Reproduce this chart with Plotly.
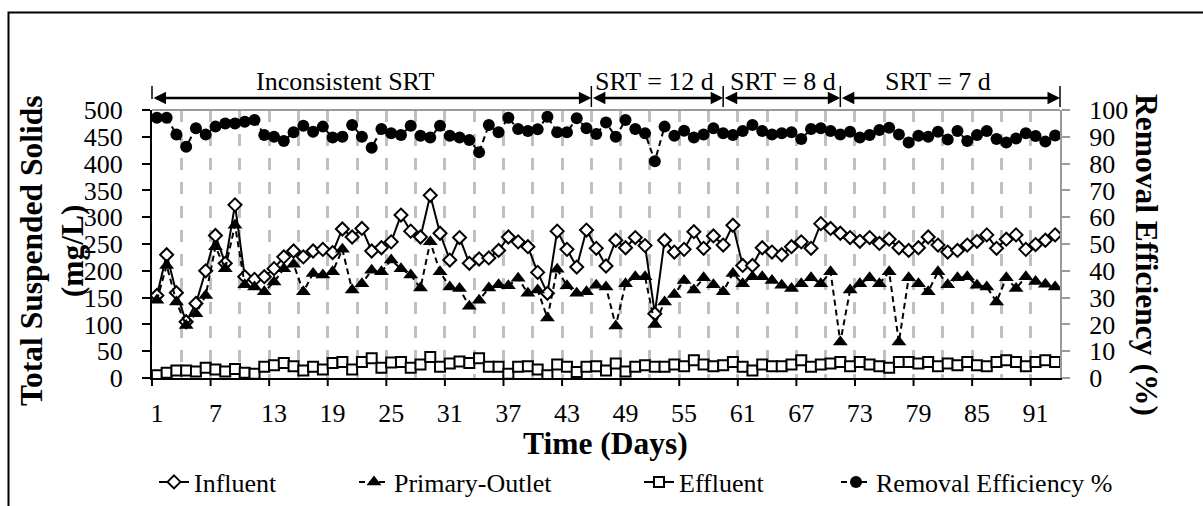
import plotly.graph_objects as go

# ---------------- data ----------------
days = list(range(1, 94))
influent = [154, 230, 159, 105, 139, 200, 266, 214, 323, 189,
            184, 189, 204, 226, 237, 226, 237, 240, 234, 278,
            263, 279, 237, 243, 254, 304, 274, 263, 341, 270,
            220, 262, 214, 222, 224, 238, 263, 254, 245, 197,
            158, 274, 240, 207, 276, 242, 209, 257, 243, 262,
            247, 120, 257, 235, 240, 273, 242, 265, 248, 285,
            210, 210, 243, 235, 230, 245, 254, 242, 288, 279,
            270, 262, 255, 262, 251, 259, 243, 238, 243, 263,
            248, 235, 238, 248, 255, 267, 242, 259, 267, 240,
            249, 257, 267]
primary = [145, 210, 142, 98, 120, 154, 245, 204, 285, 174,
           170, 161, 179, 204, 212, 161, 195, 192, 198, 240,
           164, 176, 201, 198, 220, 204, 192, 168, 254, 198,
           170, 167, 134, 145, 168, 174, 172, 186, 158, 164,
           112, 203, 172, 158, 161, 173, 170, 97, 176, 189,
           189, 100, 142, 156, 182, 164, 187, 174, 161, 195,
           176, 189, 189, 182, 173, 167, 176, 187, 176, 198,
           67, 164, 176, 187, 176, 198, 67, 187, 176, 161,
           198, 174, 187, 189, 173, 170, 142, 187, 167, 189,
           180, 175, 170]
effluent = [5, 10, 14, 14, 12, 19, 16, 12, 17, 10,
            8, 21, 24, 28, 22, 14, 21, 16, 28, 30,
            16, 30, 37, 19, 29, 30, 19, 25, 39, 21,
            27, 31, 28, 37, 21, 21, 8, 21, 22, 16,
            5, 25, 21, 11, 21, 22, 14, 27, 12, 21,
            24, 21, 21, 25, 22, 33, 25, 22, 24, 30,
            21, 14, 25, 22, 22, 25, 33, 21, 25, 27,
            30, 22, 30, 25, 22, 19, 30, 30, 27, 30,
            22, 27, 24, 30, 24, 22, 30, 33, 30, 22,
            30, 33, 30]
removal = [97.1, 97.1, 90.9, 86.3, 93.2, 90.9, 93.8, 95.0, 95.0, 95.6,
           96.3, 90.7, 90.0, 88.4, 91.7, 94.1, 91.9, 93.8, 89.7, 90.0,
           94.4, 90.0, 85.9, 92.9, 91.3, 90.7, 94.1, 90.4, 89.7, 94.1,
           90.4, 89.7, 88.8, 84.2, 94.4, 91.7, 97.1, 92.9, 92.2, 92.8,
           97.5, 91.7, 91.7, 96.9, 93.2, 91.0, 95.3, 90.0, 96.3, 92.9,
           91.3, 80.9, 93.8, 90.4, 92.3, 89.7, 90.9, 93.2, 91.3, 90.7,
           92.2, 94.4, 92.2, 90.9, 91.3, 91.7, 89.2, 92.9, 93.2, 92.2,
           90.9, 91.9, 89.7, 90.7, 92.5, 93.4, 90.9, 87.9, 90.4, 90.0,
           91.9, 89.0, 92.2, 88.4, 90.7, 92.2, 89.2, 87.9, 89.4, 91.3,
           90.3, 88.2, 90.5]

x_tick_days = list(range(1, 92, 6))
left_ticks = list(range(0, 501, 50))
right_ticks = list(range(0, 101, 10))

period_names = ["Inconsistent SRT", "SRT = 12 d", "SRT = 8 d", "SRT = 7 d"]
period_bounds = [0.5, 45.5, 59, 71, 93.5]

# ---------------- layout helpers ----------------
W, H = 1203, 506
ML, MR, MT, MB = 152, 143, 110, 128
PW = W - ML - MR
PH = H - MT - MB
XMIN, XMAX = 0.5, 93.5
FONT = "Liberation Serif, Times New Roman, serif"
FS = 26
TFS = 31.5


def pxx(px):
    return (px - ML) / PW


def pxy(py):
    return (H - MB - py) / PH


def dx(d):
    return (d - XMIN) / (XMAX - XMIN)


fig = go.Figure()
fig.add_trace(go.Scatter(
    x=days, y=influent, name="Influent", mode="lines+markers",
    line=dict(color="black", width=2),
    marker=dict(symbol="diamond", size=10, color="white",
                line=dict(color="black", width=2)),
    legend="legend"))
fig.add_trace(go.Scatter(
    x=days, y=primary, name="Primary-Outlet", mode="lines+markers",
    line=dict(color="black", width=2, dash="6px,4px"),
    marker=dict(symbol="triangle-up", size=13, color="black"),
    legend="legend2"))
fig.add_trace(go.Scatter(
    x=days, y=effluent, name="Effluent", mode="lines+markers",
    line=dict(color="black", width=2),
    marker=dict(symbol="square", size=10, color="white",
                line=dict(color="black", width=2)),
    legend="legend3"))
fig.add_trace(go.Scatter(
    x=days, y=removal, name="Removal Efficiency %", mode="lines+markers",
    yaxis="y2",
    line=dict(color="black", width=2, dash="6px,4px"),
    marker=dict(symbol="circle", size=12, color="black"),
    legend="legend4"))

shapes = []
# plot-area top border (grey)
shapes.append(dict(type="line", xref="paper", yref="paper", x0=0, x1=1, y0=1, y1=1,
                   line=dict(color="#9a9a9a", width=2)))
# x tick marks at category boundaries every 6 days
b = XMIN
while b <= 91:
    shapes.append(dict(type="line", xref="paper", yref="paper",
                       x0=dx(b), x1=dx(b), y0=0, y1=-8 / PH,
                       line=dict(color="black", width=2)))
    b += 6
# outer frame
shapes.append(dict(type="rect", xref="paper", yref="paper",
                   x0=pxx(8.5), x1=pxx(1230), y0=pxy(530), y1=pxy(12.5),
                   line=dict(color="black", width=2), fillcolor="rgba(0,0,0,0)"))
# period boundary markers
y_line = pxy(98)
for i, bd in enumerate(period_bounds):
    top = pxy(86)
    bot = pxy(99) if i == 0 else pxy(107)
    shapes.append(dict(type="line", xref="paper", yref="paper",
                       x0=dx(bd), x1=dx(bd), y0=bot, y1=top,
                       line=dict(color="black", width=1.5)))

annotations = []
# period arrows
for i in range(len(period_names)):
    x0, x1 = period_bounds[i], period_bounds[i + 1]
    annotations.append(dict(
        x=x1, y=y_line, xref="x", yref="paper",
        ax=x0, ay=0, axref="x", ayref="pixel",
        text="", showarrow=True, arrowside="end+start",
        arrowhead=2, startarrowhead=2, arrowsize=1, startarrowsize=1,
        arrowwidth=2.5, arrowcolor="black", standoff=0, startstandoff=0))
label_x = [20.3, 52.0, 65.1, 81.0]
for name, lx in zip(period_names, label_x):
    annotations.append(dict(
        x=lx, y=pxy(82), xref="x", yref="paper", text=name, showarrow=False,
        xanchor="center", yanchor="middle",
        font=dict(family=FONT, size=FS, color="black")))

# axis titles
annotations.append(dict(
    x=pxx(52), y=pxy(251), xref="paper", yref="paper",
    text="<b>Total Suspended Solids<br>(mg/L)</b>", textangle=-90,
    showarrow=False, xanchor="center", yanchor="middle",
    font=dict(family=FONT, size=TFS, color="black")))
annotations.append(dict(
    x=pxx(1147), y=pxy(255), xref="paper", yref="paper",
    text="<b>Removal Efficiency (%)</b>", textangle=90,
    showarrow=False, xanchor="center", yanchor="middle",
    font=dict(family=FONT, size=TFS, color="black")))
annotations.append(dict(
    x=pxx(605), y=pxy(443), xref="paper", yref="paper",
    text="<b>Time (Days)</b>",
    showarrow=False, xanchor="center", yanchor="middle",
    font=dict(family=FONT, size=TFS, color="black")))

legend_common = dict(orientation="h", yanchor="middle", xanchor="left",
                     bgcolor="rgba(0,0,0,0)", borderwidth=0,
                     font=dict(family=FONT, size=FS, color="black"))
legend_text_x = [195, 395, 680, 877]
legend_y = pxy(482)

fig.update_layout(
    width=W, height=H,
    margin=dict(l=ML, r=MR, t=MT, b=MB, autoexpand=False),
    paper_bgcolor="white", plot_bgcolor="white",
    font=dict(family=FONT, size=FS, color="black"),
    showlegend=True,
    legend=dict(x=pxx(legend_text_x[0] - 41), y=legend_y, **legend_common),
    legend2=dict(x=pxx(legend_text_x[1] - 41), y=legend_y, **legend_common),
    legend3=dict(x=pxx(legend_text_x[2] - 41), y=legend_y, **legend_common),
    legend4=dict(x=pxx(legend_text_x[3] - 41), y=legend_y, **legend_common),
    xaxis=dict(
        range=[XMIN, XMAX], tickmode="array", tickvals=x_tick_days,
        ticktext=[str(d) for d in x_tick_days], ticks="",
        showline=True, linecolor="black", linewidth=2,
        showgrid=False, zeroline=False, ticklabelstandoff=11,
        tickfont=dict(family=FONT, size=FS, color="black"),
        minor=dict(tickmode="linear", tick0=0.5, dtick=3, showgrid=True,
                   gridcolor="#c0c0c0", gridwidth=3, griddash="12px,12px",
                   ticks=""),
    ),
    yaxis=dict(
        range=[0, 500], tickmode="array", tickvals=left_ticks,
        ticks="outside", ticklen=8, tickwidth=2, tickcolor="black",
        showline=True, linecolor="black", linewidth=2,
        showgrid=False, zeroline=False, ticklabelstandoff=14,
        tickfont=dict(family=FONT, size=FS, color="black"),
    ),
    yaxis2=dict(
        range=[0, 100], tickmode="array", tickvals=right_ticks,
        overlaying="y", side="right",
        ticks="outside", ticklen=8, tickwidth=2, tickcolor="#9a9a9a",
        showline=True, linecolor="#9a9a9a", linewidth=2,
        showgrid=False, zeroline=False, ticklabelstandoff=14,
        tickfont=dict(family=FONT, size=FS, color="black"),
    ),
    shapes=shapes,
    annotations=annotations,
)

fig.write_html("out.html")
